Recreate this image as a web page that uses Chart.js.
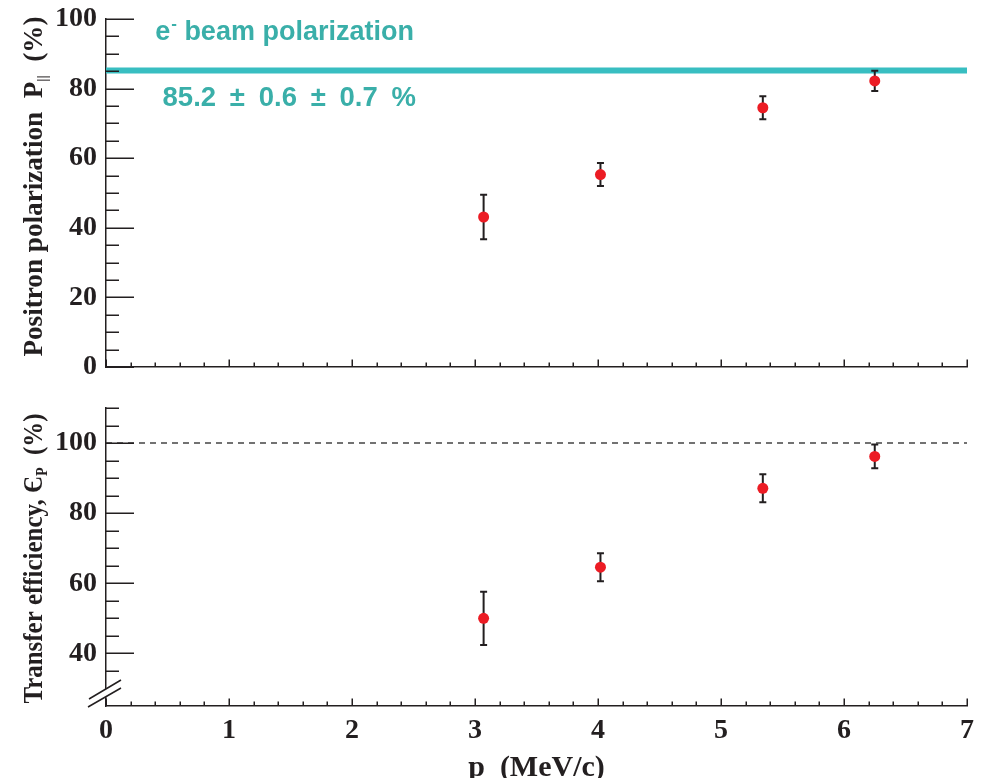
<!DOCTYPE html>
<html><head><meta charset="utf-8">
<script src="https://cdn.jsdelivr.net/npm/chart.js@4/dist/chart.umd.min.js"></script>
<style>
html,body{margin:0;padding:0;background:#fff;}
#wrap{position:relative;width:984px;height:778px;overflow:hidden;}
#c1{position:absolute;left:0;top:0;}
#c2{position:absolute;left:0;top:390px;}
</style></head><body>
<div id="wrap"><canvas id="c1" width="984" height="390"></canvas><canvas id="c2" width="984" height="388"></canvas></div>
<script>
// ---- data ----
const momentum = [3.07, 4.02, 5.34, 6.25];
const polarization = [43.1, 55.3, 74.5, 82.2];
const polarizationErr = [6.4, 3.3, 3.3, 2.9];
const efficiency = [50.0, 64.6, 87.1, 96.2];
const efficiencyErr = [7.6, 4.0, 4.0, 3.4];
const beamPolarization = 85.2;
const beamLabel = 'e';
const beamLabelRest = ' beam polarization';
const beamValueLabel = '85.2\u2002\u00b1\u20020.6\u2002\u00b1\u20020.7\u2002%';
const effReference = 100;
const xRange = [0, 7];
const xTicks = [0, 1, 2, 3, 4, 5, 6, 7];
const polRange = [0, 100];
const polTicks = [0, 20, 40, 60, 80, 100];
const effRange = [25, 110];
const effTicks = [40, 60, 80, 100];

// ---- style ----
const INK = '#231f20', RED = '#ec1c24', TEAL_LINE = '#38bec1', TEAL_TEXT = '#3aafa9';
const SERIF = "'Liberation Serif','Times New Roman',serif";
const SANS = "'Liberation Sans',Arial,sans-serif";

const errorBars = {
  id: 'errorBars',
  beforeDatasetDraw(chart, args) {
    const ds = chart.data.datasets[args.index];
    if (!ds.errors) return;
    const {ctx, scales: {x, y}} = chart;
    ctx.save();
    ctx.strokeStyle = INK; ctx.lineWidth = 2;
    ds.data.forEach((p, i) => {
      const px = x.getPixelForValue(p.x);
      const t = y.getPixelForValue(p.y + ds.errors[i]);
      const b = y.getPixelForValue(p.y - ds.errors[i]);
      ctx.beginPath();
      ctx.moveTo(px, t); ctx.lineTo(px, b);
      ctx.moveTo(px - 3.5, t); ctx.lineTo(px + 3.5, t);
      ctx.moveTo(px - 3.5, b); ctx.lineTo(px + 3.5, b);
      ctx.stroke();
    });
    ctx.restore();
  }
};

function tickMarks(yMinorStart) {
  return {
    id: 'tickMarks',
    afterDraw(chart) {
      const {ctx, chartArea: a, scales: {x, y}} = chart;
      ctx.save();
      ctx.strokeStyle = INK; ctx.lineWidth = 1.5;
      ctx.beginPath();
      for (let v = yMinorStart; v <= y.max + 1e-6; v += 5) {
        const py = Math.round(y.getPixelForValue(v)) + 0.25;
        const len = (Math.abs(v % 20) < 1e-6) ? 28 : 13;
        ctx.moveTo(a.left, py); ctx.lineTo(a.left + len, py);
      }
      for (let k = 0; k <= 35; k++) {
        const v = k * 0.2;
        const px = Math.round(x.getPixelForValue(v)) + 0.25;
        const len = (k % 5 === 0) ? 7.5 : 4.5;
        ctx.moveTo(px, a.bottom); ctx.lineTo(px, a.bottom - len);
      }
      ctx.stroke();
      ctx.restore();
    }
  };
}

function drawRotatedTitle(ctx, cx, cy, parts, squish) {
  ctx.save();
  ctx.translate(cx, cy);
  ctx.rotate(-Math.PI / 2);
  ctx.scale(squish, 1);
  let total = 0;
  parts.forEach(p => { ctx.font = p.font; p.w = ctx.measureText(p.text).width; total += p.w; });
  let xx = -total / 2;
  ctx.fillStyle = INK; ctx.textBaseline = 'alphabetic'; ctx.textAlign = 'left';
  parts.forEach(p => { ctx.font = p.font; ctx.fillText(p.text, xx, p.dy || 0); xx += p.w; });
  ctx.restore();
}

const topDecor = {
  id: 'topDecor',
  afterDraw(chart) {
    const {ctx, chartArea: a, scales: {x, y}} = chart;
    drawRotatedTitle(ctx, 42, (a.top + a.bottom) / 2 - 6.5, [
      {text: 'Positron polarization  P', font: 'bold 28px ' + SERIF},
      {text: '||', font: 'bold 15px ' + SERIF, dy: 5},
      {text: '  (%)', font: 'bold 28px ' + SERIF}
    ], 0.97);
    ctx.save();
    ctx.fillStyle = TEAL_TEXT; ctx.textBaseline = 'alphabetic'; ctx.textAlign = 'left';
    let px = x.getPixelForValue(0.4), py = y.getPixelForValue(94);
    ctx.font = 'bold 27px ' + SANS;
    ctx.fillText(beamLabel, px, py);
    let w = ctx.measureText(beamLabel).width;
    ctx.font = 'bold 17px ' + SANS;
    ctx.fillText('-', px + w + 1, py - 11);
    const w2 = ctx.measureText('-').width;
    ctx.font = 'bold 27px ' + SANS;
    ctx.fillText(beamLabelRest, px + w + w2 + 1, py);
    ctx.font = 'bold 27.5px ' + SANS;
    ctx.fillText(beamValueLabel, x.getPixelForValue(0.46), y.getPixelForValue(75));
    ctx.restore();
  }
};

const bottomDecor = {
  id: 'bottomDecor',
  afterDraw(chart) {
    const {ctx, chartArea: a} = chart;
    drawRotatedTitle(ctx, 42, (a.top + a.bottom) / 2 + 1.5, [
      {text: 'Transfer efficiency, \u0404', font: 'bold 28px ' + SERIF},
      {text: 'P', font: 'bold 16px ' + SERIF, dy: 5},
      {text: '  (%)', font: 'bold 28px ' + SERIF}
    ], 0.89);
    // axis break marks
    const L = a.left, B = a.bottom;
    ctx.save();
    ctx.fillStyle = '#fff';
    ctx.beginPath();
    ctx.moveTo(L - 17, B - 7); ctx.lineTo(L + 15, B - 26);
    ctx.lineTo(L + 15, B - 18); ctx.lineTo(L - 18, B + 1);
    ctx.closePath(); ctx.fill();
    ctx.strokeStyle = INK; ctx.lineWidth = 1.5;
    ctx.beginPath();
    ctx.moveTo(L - 17, B - 7); ctx.lineTo(L + 15, B - 26);
    ctx.moveTo(L - 18, B + 1); ctx.lineTo(L + 15, B - 18);
    ctx.stroke();
    ctx.restore();
  }
};

function yAxis(range, ticks) {
  return {
    type: 'linear', min: range[0], max: range[1],
    afterFit: s => { s.width = 106; s.paddingTop = 0; s.paddingBottom = 0; },
    afterBuildTicks: s => { s.ticks = ticks.map(v => ({value: v})); },
    ticks: {font: {family: SERIF, size: 28, weight: 'bold'}, color: INK, padding: 9, autoSkip: false},
    grid: {display: false, drawTicks: false},
    border: {display: true, color: INK, width: 1.5}
  };
}

Chart.defaults.animation = false;

new Chart(document.getElementById('c1'), {
  type: 'scatter',
  data: {datasets: [
    {data: [{x: xRange[0], y: beamPolarization}, {x: xRange[1], y: beamPolarization}], showLine: true,
     borderColor: TEAL_LINE, borderWidth: 6, pointRadius: 0, order: 2},
    {data: momentum.map((m, i) => ({x: m, y: polarization[i]})), errors: polarizationErr,
     backgroundColor: RED, borderWidth: 0, pointRadius: 5.5, order: 1}
  ]},
  options: {
    responsive: false, animation: false,
    layout: {padding: {top: 19, right: 17, left: 0, bottom: 0}},
    plugins: {legend: {display: false}, tooltip: {enabled: false}},
    scales: {
      x: {type: 'linear', min: xRange[0], max: xRange[1],
          afterFit: s => { s.height = 23; s.paddingLeft = 0; s.paddingRight = 0; },
          ticks: {display: false}, grid: {display: false, drawTicks: false},
          border: {display: true, color: INK, width: 1.5}},
      y: yAxis(polRange, polTicks)
    }
  },
  plugins: [errorBars, tickMarks(0), topDecor]
});

new Chart(document.getElementById('c2'), {
  type: 'scatter',
  data: {datasets: [
    {data: [{x: xRange[0], y: effReference}, {x: xRange[1], y: effReference}], showLine: true,
     borderColor: '#444444', borderWidth: 1.5, borderDash: [6, 5], pointRadius: 0, order: 2},
    {data: momentum.map((m, i) => ({x: m, y: efficiency[i]})), errors: efficiencyErr,
     backgroundColor: RED, borderWidth: 0, pointRadius: 5.5, order: 1}
  ]},
  options: {
    responsive: false, animation: false,
    layout: {padding: {top: 18, right: 17, left: 0, bottom: 0}},
    plugins: {legend: {display: false}, tooltip: {enabled: false}},
    scales: {
      x: {type: 'linear', min: xRange[0], max: xRange[1],
          afterFit: s => { s.height = 72; s.paddingLeft = 0; s.paddingRight = 0; },
          afterBuildTicks: s => { s.ticks = xTicks.map(v => ({value: v})); },
          ticks: {font: {family: SERIF, size: 28, weight: 'bold'}, color: INK, padding: 8, autoSkip: false, maxRotation: 0},
          grid: {display: false, drawTicks: false},
          border: {display: true, color: INK, width: 1.5},
          title: {display: true, text: 'p  (MeV/c)', color: INK,
                  font: {family: SERIF, size: 30, weight: 'bold', lineHeight: 0.68}, padding: 0}},
      y: yAxis(effRange, effTicks)
    }
  },
  plugins: [errorBars, tickMarks(35), bottomDecor]
});
</script>
</body></html>
